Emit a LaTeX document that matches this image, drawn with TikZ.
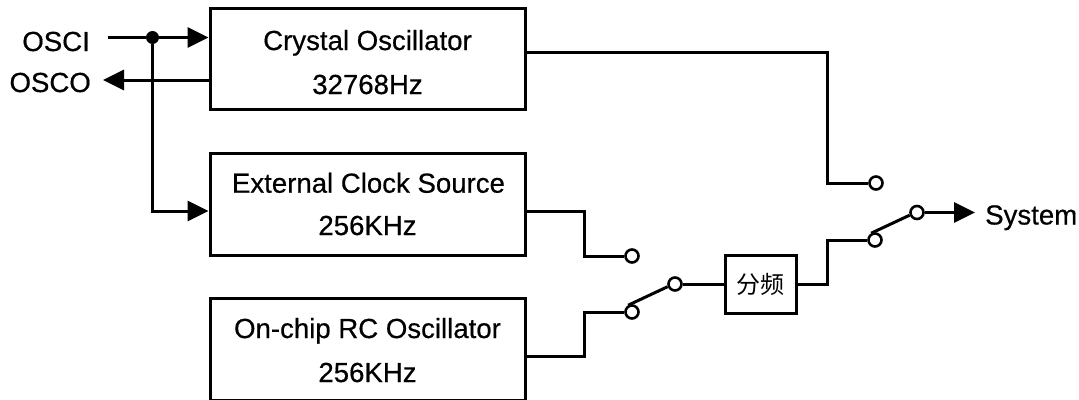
\documentclass[tikz,border=0pt]{standalone}
\usepackage{fontspec}
\setmainfont{Liberation Sans}[FakeBold=0.5]
\newfontfamily\cjkfont{Noto Sans CJK SC}
\usetikzlibrary{arrows.meta}
\begin{document}
\begin{tikzpicture}[x=1pt,y=-1pt,
  wire/.style={line width=3pt},
  blk/.style={draw, line width=3pt, minimum width=315pt, inner sep=0pt},
  lbl/.style={font=\fontsize{27.6}{30}\selectfont, inner sep=0pt, anchor=base},
  term/.style={circle, draw, line width=2.6pt, fill=white, minimum size=13pt, inner sep=0pt},
  jdot/.style={circle, fill, minimum size=13pt, inner sep=0pt},
  tipped/.style={-{Triangle[length=21pt,width=20pt]}}
]
\useasboundingbox (0,0) rectangle (1079,399);

% blocks
\node[blk, minimum height=101pt] (cry) at (367.5,58.5) {};
\node[blk, minimum height=102pt] (ext) at (367.5,204) {};
\node[blk, minimum height=102pt] (rc) at (367.5,349) {};
\node[draw, line width=3pt, minimum width=71pt, minimum height=58pt, inner sep=0pt,
      font=\cjkfont\fontsize{24}{24}\selectfont] (div) at (760.5,284) {分频};

% block texts
\node[lbl] (cry1) at (367.5,50) {Crystal Oscillator};
\node[lbl] (cry2) at (367.5,94) {32768Hz};
\node[lbl] (ext1) at (368.5,192.7) {External Clock Source};
\node[lbl] (ext2) at (367.5,235) {256KHz};
\node[lbl] (rc1) at (367.5,338) {On-chip RC Oscillator};
\node[lbl] (rc2) at (367.5,382) {256KHz};

% pins
\node[lbl, anchor=base east] (osci) at (90,51) {OSCI};
\node[lbl, anchor=base east] (osco) at (91,92) {OSCO};
\coordinate (osciin) at (108,37.5);
\coordinate (oscoout) at (103,80);
\node[jdot] (j) at (152.5,37.5) {};

% switch terminals
\node[term] (s1a) at (632,256) {};
\node[term] (s1b) at (632,312) {};
\node[term] (s1c) at (675,284) {};
\node[term] (c1) at (876,183) {};
\node[term] (c2) at (875,240) {};
\node[term] (c3) at (917,212.5) {};
\coordinate (sysend) at (975,212.5);
\node[lbl, anchor=base west] (sys) at (985,224.5) {System};

% wiring
\draw[wire] (osciin) -- (j);
\draw[wire, tipped] (j) -- (j -| cry.west);
\draw[wire, tipped] (cry.west |- oscoout) -- (oscoout);
\draw[wire, tipped] (j) |- ([yshift=-7pt]ext.west);
\draw[wire] ([yshift=6.5pt]cry.east) -- ++(301,0) |- (c1.west);
\draw[wire] ([yshift=-7pt]ext.east) -- ++(58,0) |- (s1a.west);
\draw[wire] ([yshift=-7pt]rc.east) -- ++(58,0) |- (s1b.west);
\draw[wire] (s1b.120) -- (s1c.200);
\draw[wire] (s1c.east) -- (div.west);
\draw[wire] (div.east) -- ++(30,0) |- (c2.west);
\draw[wire] (c2.120) -- (c3.200);
\draw[wire, tipped] (c3.east) -- (sysend);
\end{tikzpicture}
\end{document}
